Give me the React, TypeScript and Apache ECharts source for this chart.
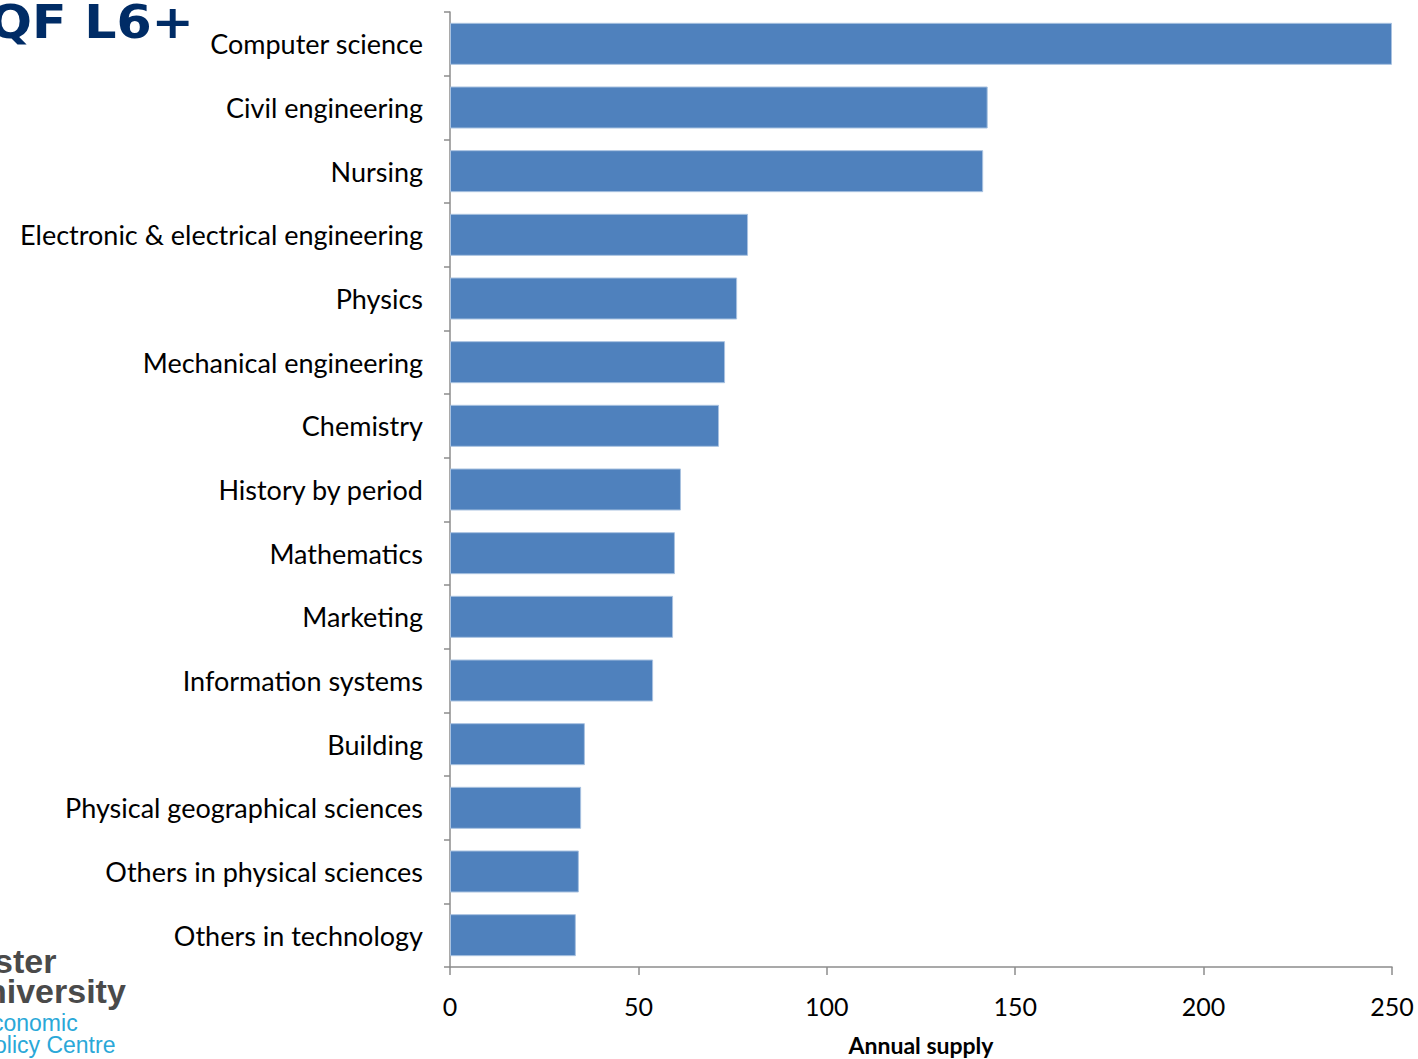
import React, { useEffect, useRef } from "react";
import * as echarts from "echarts";

const categories = [
  "Computer science",
  "Civil engineering",
  "Nursing",
  "Electronic & electrical engineering",
  "Physics",
  "Mechanical engineering",
  "Chemistry",
  "History by period",
  "Mathematics",
  "Marketing",
  "Information systems",
  "Building",
  "Physical geographical sciences",
  "Others in physical sciences",
  "Others in technology",
];

const annualSupply = [250, 142.7, 141.5, 79.1, 76.2, 73.0, 71.4, 61.3, 59.7, 59.2, 53.9, 35.8, 34.8, 34.2, 33.4];

const xTicks = { min: 0, max: 250, interval: 50 };

const FONT = "Lato";

export default function App() {
  const ref = useRef<HTMLDivElement>(null);
  useEffect(() => {
    if (!ref.current) return;
    const chart = echarts.init(ref.current, null, { renderer: "svg" });
    chart.setOption({
      animation: false,
      backgroundColor: "#ffffff",
      grid: { left: 450, right: 26, top: 12, bottom: 92, containLabel: false, outerBoundsMode: "none" },
      xAxis: {
        type: "value",
        min: xTicks.min,
        max: xTicks.max,
        interval: xTicks.interval,
        name: "Annual supply",
        nameLocation: "middle",
        nameGap: 66,
        nameTextStyle: { fontFamily: FONT, fontWeight: "bold", fontSize: 23, color: "#000" },
        axisLine: { show: true, lineStyle: { color: "#8c8c8c", width: 1.5 } },
        axisTick: { show: true, length: 8, lineStyle: { color: "#8c8c8c", width: 1.5 } },
        axisLabel: { fontFamily: FONT, fontSize: 25, color: "#000", margin: 26 },
        splitLine: { show: false },
      },
      yAxis: {
        type: "category",
        inverse: true,
        data: categories,
        axisLine: { show: true, lineStyle: { color: "#8c8c8c", width: 1.5 } },
        axisTick: { show: true, length: 6, lineStyle: { color: "#8c8c8c", width: 1.5 } },
        axisLabel: { fontFamily: FONT, fontSize: 27, color: "#000", margin: 27 },
      },
      series: [
        {
          type: "bar",
          data: annualSupply,
          barCategoryGap: "34%",
          itemStyle: { color: "#4F81BD", borderColor: "#A9C2E0", borderWidth: 1 },
        },
      ],
      graphic: [
        {
          type: "text",
          x: -11,
          y: 22,
          scaleX: 1.1,
          style: {
            text: "QF L6+",
            fontFamily: "DejaVu Sans",
            fontWeight: "bold",
            fontSize: 46,
            fill: "#002C66",
            verticalAlign: "middle",
            lineHeight: 46,
          },
        },
        {
          type: "text",
          x: -6,
          y: 961,
          style: { text: "ster", fontFamily: "Liberation Sans", fontWeight: "bold", fontSize: 34, lineHeight: 28, fill: "#4a4a4a", verticalAlign: "middle" },
        },
        {
          type: "text",
          x: -14,
          y: 991,
          style: { text: "niversity", fontFamily: "Liberation Sans", fontWeight: "bold", fontSize: 34, lineHeight: 28, fill: "#4a4a4a", verticalAlign: "middle" },
        },
        {
          type: "text",
          x: -8,
          y: 1023,
          style: { text: "conomic", fontFamily: "Liberation Sans", fontSize: 23, lineHeight: 20, fill: "#2AA8D8", verticalAlign: "middle" },
        },
        {
          type: "text",
          x: -6,
          y: 1045,
          style: { text: "olicy Centre", fontFamily: "Liberation Sans", fontSize: 23, lineHeight: 20, fill: "#2AA8D8", verticalAlign: "middle" },
        },
      ],
    });
    return () => chart.dispose();
  }, []);
  return (
    <div
      ref={ref}
      style={{ position: "absolute", left: 0, top: 0, width: 1418, height: 1059 }}
    />
  );
}
